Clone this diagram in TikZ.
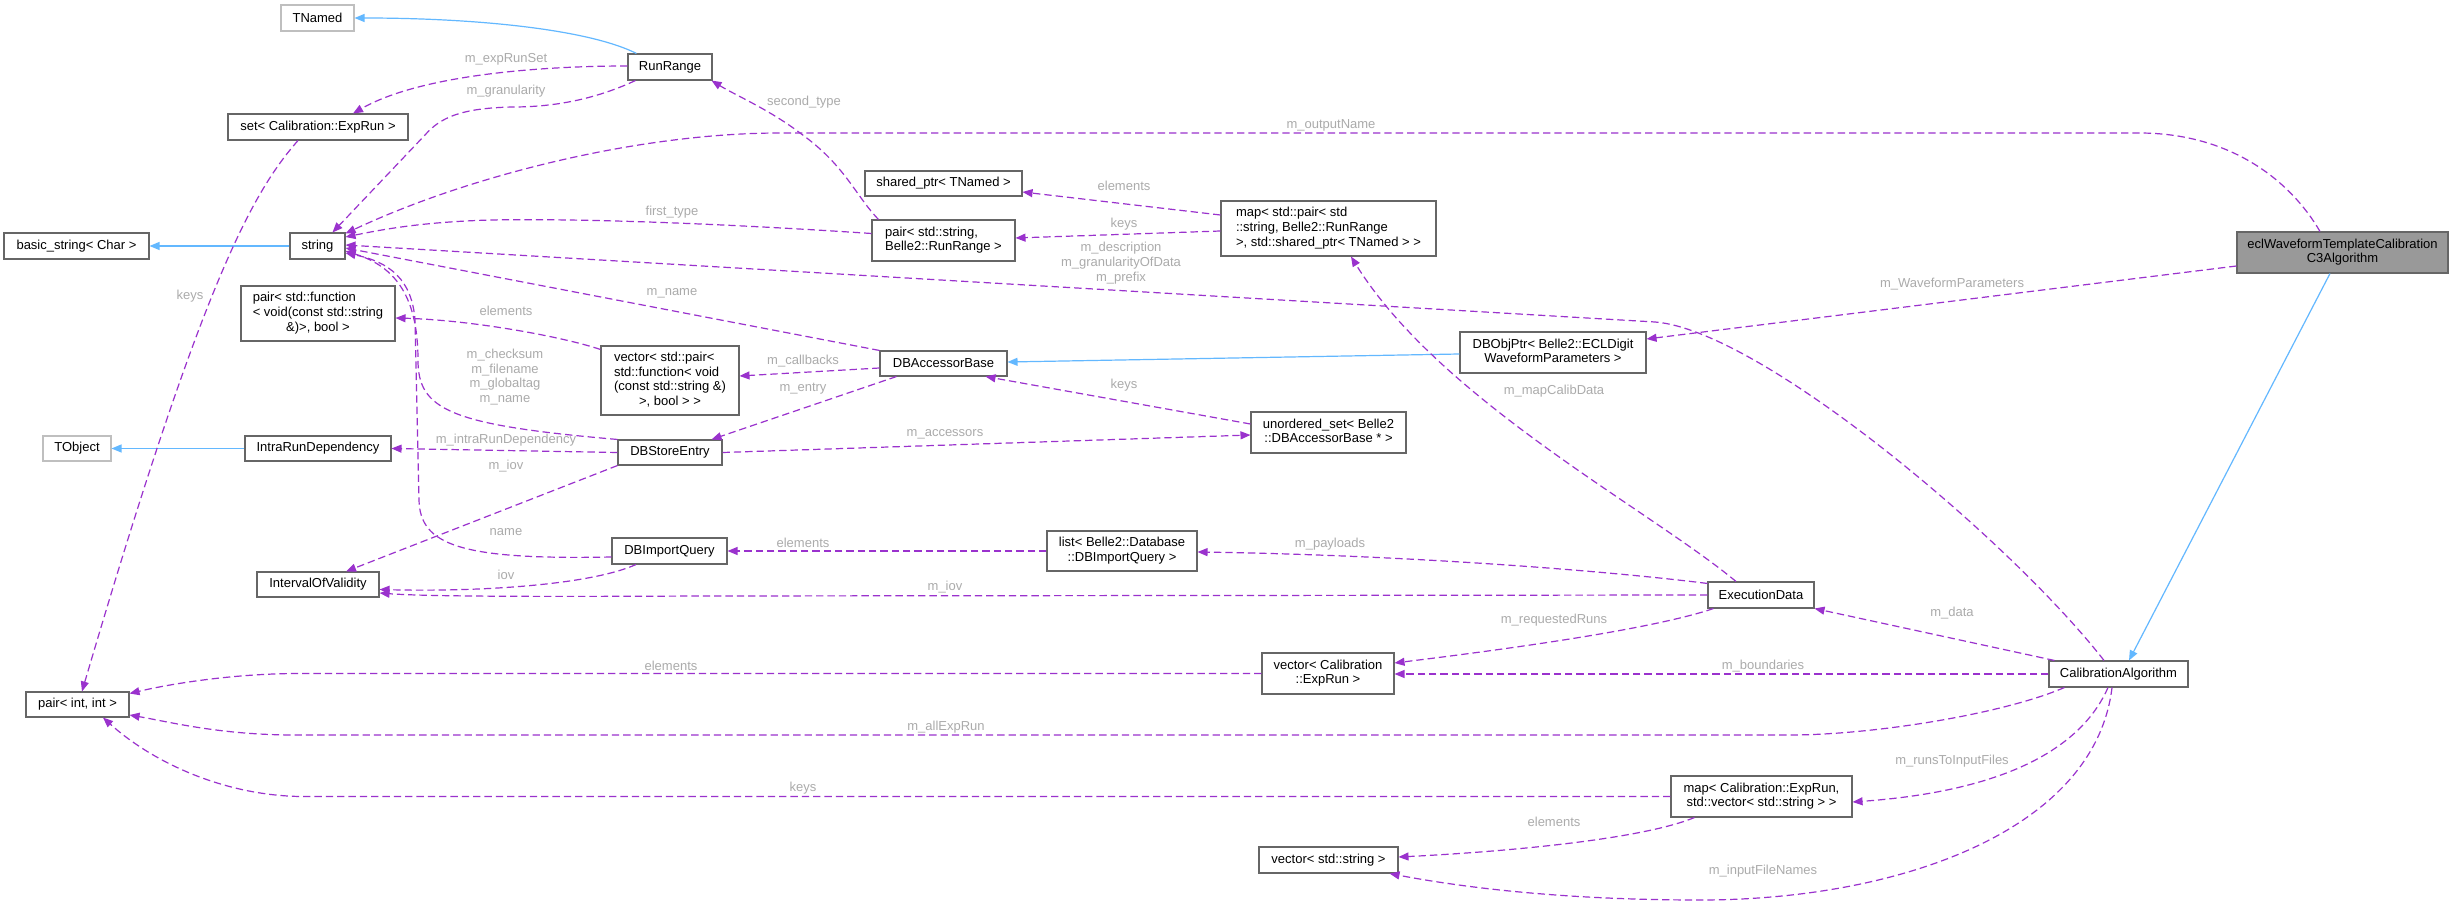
\documentclass[tikz,border=0pt]{standalone}
\usepackage{fontspec}
\setmainfont{Liberation Sans}
\usetikzlibrary{arrows.meta,calc}
\definecolor{dpurple}{HTML}{9A32CD}
\definecolor{lblue}{HTML}{63B8FF}
\definecolor{lgray}{HTML}{ABABAB}
\definecolor{bgray}{HTML}{666666}
\definecolor{ggray}{HTML}{BFBFBF}
\definecolor{dgray}{HTML}{999999}
\newcommand\dxfont{\fontsize{9.75pt}{11pt}\selectfont}
\newcommand\ml[1]{\begin{tabular}{@{}l@{}}#1\end{tabular}}
\newcommand\lc[1]{\multicolumn{1}{@{}c@{}}{#1}}
\tikzset{
  box/.style={draw=bgray, line width=0.8pt, fill=white, inner sep=0pt, font=\dxfont},
  gbox/.style={box, draw=ggray},
  sz/.style 2 args={minimum width=#1*0.75pt, minimum height=#2*0.75pt},
  dep/.style={draw=dpurple, line width=0.9pt, dash pattern=on 5.5pt off 3pt, -{Triangle[length=7.5pt,width=6pt]}},
  inh/.style={draw=lblue, line width=0.9pt, -{Triangle[length=7.5pt,width=6pt]}},
  lbl/.style={text=lgray, font=\dxfont, inner sep=0pt, align=center},
}
\begin{document}
\begin{tikzpicture}[x=0.75pt,y=-0.75pt]
\fill[white] (0,0) rectangle (2453,905);
\useasboundingbox (0,0) rectangle (2453,905);

% nodes
\node[gbox,sz={73}{26}] (TNamed) at (317.5,18) {TNamed};
\node[box,sz={84}{26}] (RunRange) at (670,67) {RunRange};
\node[box,sz={180}{26}] (setExp) at (318,127) {set< Calibration::ExpRun >};
\node[box,sz={145}{26}] (bstr) at (76.5,246) {basic\_string< Char >};
\node[box,sz={55}{26}] (str) at (317.5,246) {string};
\node[box,sz={154}{55}] (pfunc) at (318,313.5) {\ml{pair< std::function\\< void(const std::string\\\lc{\&)>, bool >}}};
\node[box,sz={138}{69}] (vpair) at (670,380.5) {\ml{vector< std::pair<\\std::function< void\\(const std::string \&)\\\lc{>, bool > >}}};
\node[gbox,sz={68}{25}] (TObject) at (77,448.5) {TObject};
\node[box,sz={146}{25}] (IRD) at (318,448.5) {IntraRunDependency};
\node[box,sz={104}{25}] (DBSE) at (670,452.5) {DBStoreEntry};
\node[box,sz={122}{25}] (IOV) at (318,584.5) {IntervalOfValidity};
\node[box,sz={115}{26}] (DBIQ) at (669.5,551) {DBImportQuery};
\node[box,sz={103}{25}] (pint) at (77.5,704.5) {pair< int, int >};
\node[box,sz={157}{25}] (sptr) at (943.5,183.5) {shared\_ptr< TNamed >};
\node[box,sz={143}{41}] (pstr) at (943.5,240.5) {\ml{pair< std::string,\\\lc{Belle2::RunRange >}}};
\node[box,sz={215}{55}] (mpair) at (1328.5,228.5) {\ml{map< std::pair< std\\::string, Belle2::RunRange\\\lc{>, std::shared\_ptr< TNamed > >}}};
\node[box,sz={127}{25}] (DBAB) at (943.5,363.5) {DBAccessorBase};
\node[box,sz={155}{41}] (uset) at (1328.5,432.5) {\ml{unordered\_set< Belle2\\\lc{::DBAccessorBase * >}}};
\node[box,sz={150}{40}] (ldb) at (1122,551) {\ml{list< Belle2::Database\\\lc{::DBImportQuery >}}};
\node[box,sz={132}{41}] (vexp) at (1328,673.5) {\ml{vector< Calibration\\\lc{::ExpRun >}}};
\node[box,sz={139}{26}] (vstr) at (1328.5,860) {vector< std::string >};
\node[box,sz={211}{41},fill=dgray] (ecl) at (2342.5,252.5) {\ml{eclWaveformTemplateCalibration\\\lc{C3Algorithm}}};
\node[box,sz={186}{41}] (dbop) at (1553,352.5) {\ml{DBObjPtr< Belle2::ECLDigit\\\lc{WaveformParameters >}}};
\node[box,sz={106}{26}] (exd) at (1761,595) {ExecutionData};
\node[box,sz={139}{26}] (calg) at (2118.5,674) {CalibrationAlgorithm};
\node[box,sz={181}{41}] (mexp) at (1761.5,796.5) {\ml{map< Calibration::ExpRun,\\\lc{std::vector< std::string > >}}};

% inheritance
\draw[inh] ($(RunRange.north west)+(9,0)$) .. controls (590,30) and (480,18) .. (TNamed.east);
\draw[inh] (str.west) -- (bstr.east);
\draw[inh] (IRD.west) -- (TObject.east);
\draw[inh] ($(dbop.west)+(0,1.5)$) -- ($(DBAB.east)+(0,-1.5)$);
\draw[inh] ($(ecl.south)+(-12.5,0)$) -- ($(calg.north)+(10.5,0)$);

% usage
\draw[dep] ($(RunRange.west)+(0,-1)$) .. controls (540,66) and (420,75) .. ($(setExp.north)+(35,0)$);
\draw[dep] ($(RunRange.south west)+(8,0)$) .. controls (600,97) and (560,107) .. (513,107) .. controls (460,108) and (440,118) .. (425,135) -- ($(str.north)+(15,0)$);
\draw[dep] ($(setExp.south)+(-20,0)$) .. controls (250,195) and (200,290) .. ($(pint.north)+(4.5,0)$);
\draw[dep] ($(ecl.north)+(-22.5,0)$) .. controls (2290,180) and (2230,133) .. (2139,133) -- (780,133) .. controls (640,133) and (470,175) .. ($(str.north east)+(0,1)$);
\draw[dep] ($(pstr.west)+(0,-7)$) .. controls (760,226) and (600,218) .. (491,220) .. controls (420,222) and (380,230) .. ($(str.east)+(0,-9)$);
\draw[dep] ($(pstr.north west)+(7,0)$) .. controls (855,195) and (845,165) .. (800,133) .. controls (770,110) and (735,95) .. ($(RunRange.south east)+(-1,0)$);
\draw[dep] ($(mpair.west)+(0,-13.5)$) -- ($(sptr.east)+(0,8.5)$);
\draw[dep] ($(mpair.west)+(0,2.5)$) -- ($(pstr.east)+(0,-2.5)$);
\draw[dep] ($(calg.north)+(-14.5,0)$) .. controls (2010,540) and (1760,330) .. (1655,322) -- ($(str.east)+(0,-1)$);
\draw[dep] (DBAB.north west) -- ($(str.east)+(0,2)$);
\draw[dep] ($(vpair.north west)+(0,4)$) .. controls (560,336) and (470,320) .. ($(pfunc.east)+(0,4.5)$);
\draw[dep] (DBSE.north west) .. controls (450,425) and (418,410) .. (418,360) .. controls (418,290) and (390,265) .. ($(str.east)+(0,5)$);
\draw[dep] ($(DBIQ.west)+(0,6)$) .. controls (460,560) and (420,545) .. (419,500) -- (415,320) .. controls (412,280) and (390,262) .. ($(str.east)+(0,7)$);
\draw[dep] ($(DBAB.west)+(0,4.5)$) -- ($(vpair.east)+(0,-4.5)$);
\draw[dep] ($(DBAB.south west)+(17,0)$) -- ($(DBSE.north east)+(-11,0)$);
\draw[dep] (DBSE.west) -- (IRD.east);
\draw[dep] (DBSE.south west) -- ($(IOV.north)+(28,0)$);
\draw[dep] (DBSE.east) -- ($(uset.west)+(0,2.5)$);
\draw[dep] ($(uset.west)+(0,-8.5)$) -- ($(DBAB.south east)+(-22,0)$);
\draw[dep] ($(DBIQ.south)+(-33.5,0)$) .. controls (590,585) and (480,592) .. ($(IOV.east)+(0,5)$);
\draw[dep] (exd.west) -- (700,596) .. controls (500,597) and (420,596) .. ($(IOV.east)+(0,8.5)$);
\draw[dep] (ldb.west) -- (DBIQ.east);
\draw[dep] ($(exd.north west)+(0,2)$) .. controls (1600,570) and (1400,555) .. ($(ldb.east)+(0,1)$);
\draw[dep] ($(exd.north)+(-25,0)$) .. controls (1650,510) and (1440,400) .. ($(mpair.south)+(22.5,0)$);
\draw[dep] ($(exd.south west)+(6,0)$) .. controls (1650,630) and (1500,650) .. ($(vexp.east)+(0,-10.5)$);
\draw[dep] (calg.west) -- ($(vexp.east)+(0,0.5)$);
\draw[dep] ($(calg.north west)+(6,0)$) -- (exd.south east);
\draw[dep] (vexp.west) -- (295,673.5) .. controls (230,674) and (170,684) .. ($(pint.east)+(0,-11)$);
\draw[dep] ($(calg.south west)+(16,0)$) .. controls (2000,715) and (1870,735) .. (1790,735) -- (295,735) .. controls (220,735) and (170,722) .. ($(pint.east)+(0,10.5)$);
\draw[dep] (mexp.west) -- (300,796.5) .. controls (220,795) and (150,760) .. ($(pint.south)+(25.5,0)$);
\draw[dep] ($(calg.south)+(-10.5,0)$) .. controls (2085,740) and (2020,790) .. ($(mexp.east)+(0,5.5)$);
\draw[dep] ($(mexp.south west)+(24,0)$) .. controls (1640,840) and (1500,852) .. ($(vstr.east)+(0,-3)$);
\draw[dep] ($(calg.south)+(-6.5,0)$) .. controls (2095,830) and (1900,900) .. (1700,900) .. controls (1550,900) and (1450,885) .. ($(vstr.south east)+(-9,0)$);
\draw[dep] ($(ecl.west)+(0,13.5)$) -- ($(dbop.east)+(0,-13.5)$);

% labels
\node[lbl] (la) at (506,59) {m\_expRunSet};
\node[lbl] (lb) at (506,91) {m\_granularity};
\node[lbl] (lc) at (190,296) {keys};
\node[lbl] (ld) at (1331,125) {m\_outputName};
\node[lbl] (le) at (672,212) {first\_type};
\node[lbl] (lf) at (804,102) {second\_type};
\node[lbl] (lg) at (1124,186) {elements};
\node[lbl] (lh) at (1124,224) {keys};
\node[lbl] (li) at (1121,263) {m\_description\\m\_granularityOfData\\m\_prefix};
\node[lbl] (lj) at (672,293) {m\_name};
\node[lbl] (lk) at (506,311) {elements};
\node[lbl] (ll) at (505,377) {m\_checksum\\m\_filename\\m\_globaltag\\m\_name};
\node[lbl] (lm) at (506,532) {name};
\node[lbl] (ln) at (803,361) {m\_callbacks};
\node[lbl] (lo) at (803,389) {m\_entry};
\node[lbl] (lp) at (506,440) {m\_intraRunDependency};
\node[lbl] (lq) at (506,466) {m\_iov};
\node[lbl] (lr) at (945,434) {m\_accessors};
\node[lbl] (ls) at (1124,385) {keys};
\node[lbl] (lt) at (506,575) {iov};
\node[lbl] (lu) at (945,587) {m\_iov};
\node[lbl] (lv) at (803,543) {elements};
\node[lbl] (lw) at (1330,544) {m\_payloads};
\node[lbl] (lx) at (1554,391) {m\_mapCalibData};
\node[lbl] (ly) at (1554,620) {m\_requestedRuns};
\node[lbl] (lz) at (1763,666) {m\_boundaries};
\node[lbl] (laa) at (1952,613) {m\_data};
\node[lbl] (lbb) at (671,666) {elements};
\node[lbl] (lcc) at (946,727) {m\_allExpRun};
\node[lbl] (ldd) at (803,788) {keys};
\node[lbl] (lee) at (1952,761) {m\_runsToInputFiles};
\node[lbl] (lff) at (1554,822) {elements};
\node[lbl] (lgg) at (1763,871) {m\_inputFileNames};
\node[lbl] (lhh) at (1952,284) {m\_WaveformParameters};
\end{tikzpicture}
\end{document}
